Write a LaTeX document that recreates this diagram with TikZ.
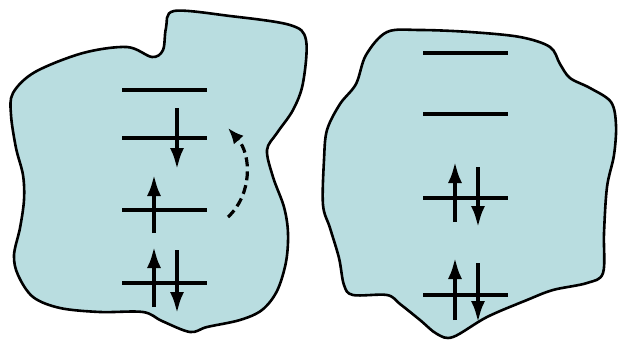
\documentclass[tikz,border=0pt]{standalone}
\usetikzlibrary{arrows.meta}
\definecolor{blobfill}{RGB}{185,221,224}
\tikzset{
  blob/.style={draw=black, line width=2.6pt, fill=blobfill, line join=round},
  level/.style={line width=4.5pt},
  spin/.style={line width=4.5pt, -{Latex[length=22pt,width=14pt]}},
  hop/.style={line width=3.2pt, dash pattern=on 9pt off 5pt, -{Latex[length=16pt,width=13pt]}}
}
\begin{document}
\begin{tikzpicture}[x=1pt,y=-1pt]
\useasboundingbox (0,0) rectangle (619,341);
% left blob
\draw[blob] plot[smooth cycle, tension=0.55] coordinates {
 (174,11) (230,16) (290,25) (306,40) (303,83) (293,110) (277,133) (267,150)
 (273,177) (284,207) (288,233) (286,262) (277,291) (262,310) (240,320) (207,327) (190,332)
 (162,321) (143,312) (100,312) (60,308) (33,297) (18,275) (14,255) (20,228) (24,200)
 (23,175) (16,148) (11,115) (13,93) (35,72) (83,53) (127,47) (152,57) (163,50) (166,28)};
% right blob
\draw[blob] plot[smooth cycle, tension=0.55] coordinates {
 (387,32) (420,30) (470,32) (520,37) (550,47) (560,64) (570,78) (590,88) (611,102)
 (616,125) (614,155) (607,187) (604,233) (603,273) (587,283) (553,290) (527,300)
 (487,317) (453,337) (437,334) (420,320) (400,304) (387,295) (353,295) (344,285)
 (339,258) (330,228) (323,205) (324,160) (327,130) (340,104) (356,84) (366,55)};
% left levels
\coordinate (La) at (122,90);  \coordinate (Lb) at (122,138);
\coordinate (Lc) at (122,210); \coordinate (Ld) at (122,283);
\foreach \c in {La,Lb,Lc,Ld} \draw[level] (\c) -- ++(85,0);
\draw[spin] (177,108) -- (177,170);
\draw[spin] (154,233) -- (154,174);
\draw[spin] (154,307) -- (154,246);
\draw[spin] (177,250) -- (177,314);
% dashed excitation
\coordinate (hs) at (228,217);
\coordinate (he) at (228,128);
\draw[hop] (hs) .. controls (252,195) and (252,155) .. (he);
% right levels
\coordinate (Ra) at (423,53);  \coordinate (Rb) at (423,114);
\coordinate (Rc) at (423,198); \coordinate (Rd) at (423,295);
\foreach \c in {Ra,Rb,Rc,Rd} \draw[level] (\c) -- ++(85,0);
\draw[spin] (455,222) -- (455,161);
\draw[spin] (478,167) -- (478,228);
\draw[spin] (455,320) -- (455,257);
\draw[spin] (478,263) -- (478,323);
\end{tikzpicture}
\end{document}
